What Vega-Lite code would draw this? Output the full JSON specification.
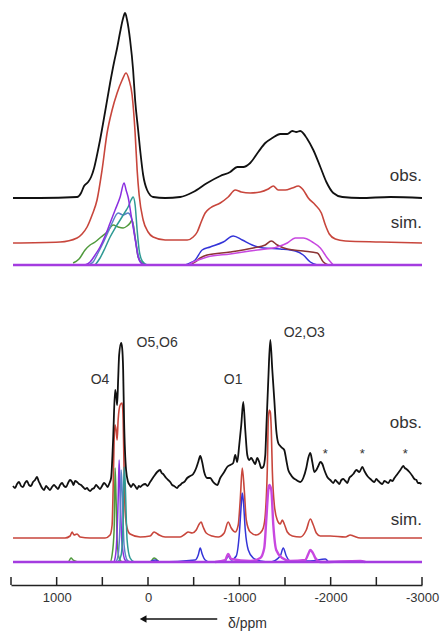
{
  "$schema": "https://vega.github.io/schema/vega-lite/v6.json",
  "width": 411,
  "height": 585,
  "autosize": {"type": "none"},
  "padding": {"left": 11, "top": 0, "right": 25, "bottom": 48},
  "background": "white",
  "config": {"view": {"stroke": null}, "font": "Liberation Sans"},
  "datasets": {
    "spectra": [
      {"s":"obs1","x":1478,"y":387},{"s":"obs1","x":1182,"y":387},{"s":"obs1","x":777,"y":388},{"s":"obs1","x":733,"y":392},{"s":"obs1","x":700,"y":399},{"s":"obs1","x":656,"y":403},{"s":"obs1","x":623,"y":408},{"s":"obs1","x":590,"y":417},{"s":"obs1","x":558,"y":430},{"s":"obs1","x":525,"y":445},{"s":"obs1","x":470,"y":473},{"s":"obs1","x":415,"y":502},{"s":"obs1","x":371,"y":523},{"s":"obs1","x":338,"y":537},{"s":"obs1","x":305,"y":553},{"s":"obs1","x":272,"y":567},{"s":"obs1","x":251,"y":572},{"s":"obs1","x":229,"y":565},{"s":"obs1","x":196,"y":545},{"s":"obs1","x":163,"y":515},{"s":"obs1","x":141,"y":485},{"s":"obs1","x":108,"y":455},{"s":"obs1","x":86,"y":435},{"s":"obs1","x":53,"y":410},{"s":"obs1","x":10,"y":395},{"s":"obs1","x":-56,"y":388},{"s":"obs1","x":-188,"y":387},{"s":"obs1","x":-352,"y":388},{"s":"obs1","x":-495,"y":393},{"s":"obs1","x":-648,"y":402},{"s":"obs1","x":-791,"y":409},{"s":"obs1","x":-900,"y":413},{"s":"obs1","x":-977,"y":418},{"s":"obs1","x":-1043,"y":418},{"s":"obs1","x":-1119,"y":422},{"s":"obs1","x":-1207,"y":433},{"s":"obs1","x":-1284,"y":442},{"s":"obs1","x":-1361,"y":447},{"s":"obs1","x":-1448,"y":451},{"s":"obs1","x":-1525,"y":451},{"s":"obs1","x":-1580,"y":454},{"s":"obs1","x":-1624,"y":453},{"s":"obs1","x":-1667,"y":454},{"s":"obs1","x":-1744,"y":446},{"s":"obs1","x":-1810,"y":435},{"s":"obs1","x":-1887,"y":418},{"s":"obs1","x":-1953,"y":403},{"s":"obs1","x":-2029,"y":392},{"s":"obs1","x":-2128,"y":388},{"s":"obs1","x":-2325,"y":387},{"s":"obs1","x":-2654,"y":388},{"s":"obs1","x":-3000,"y":387},

      {"s":"sim1","x":1478,"y":342},{"s":"sim1","x":963,"y":343},{"s":"sim1","x":777,"y":347},{"s":"sim1","x":722,"y":351},{"s":"sim1","x":667,"y":358},{"s":"sim1","x":612,"y":370},{"s":"sim1","x":558,"y":385},{"s":"sim1","x":503,"y":415},{"s":"sim1","x":448,"y":452},{"s":"sim1","x":393,"y":475},{"s":"sim1","x":338,"y":492},{"s":"sim1","x":283,"y":505},{"s":"sim1","x":240,"y":512},{"s":"sim1","x":207,"y":505},{"s":"sim1","x":174,"y":490},{"s":"sim1","x":141,"y":452},{"s":"sim1","x":119,"y":415},{"s":"sim1","x":97,"y":390},{"s":"sim1","x":53,"y":365},{"s":"sim1","x":-1,"y":353},{"s":"sim1","x":-56,"y":348},{"s":"sim1","x":-188,"y":345},{"s":"sim1","x":-429,"y":345},{"s":"sim1","x":-495,"y":348},{"s":"sim1","x":-539,"y":353},{"s":"sim1","x":-582,"y":363},{"s":"sim1","x":-626,"y":372},{"s":"sim1","x":-681,"y":377},{"s":"sim1","x":-791,"y":382},{"s":"sim1","x":-878,"y":388},{"s":"sim1","x":-955,"y":395},{"s":"sim1","x":-1021,"y":393},{"s":"sim1","x":-1119,"y":392},{"s":"sim1","x":-1229,"y":393},{"s":"sim1","x":-1317,"y":396},{"s":"sim1","x":-1372,"y":399},{"s":"sim1","x":-1426,"y":395},{"s":"sim1","x":-1503,"y":395},{"s":"sim1","x":-1580,"y":397},{"s":"sim1","x":-1646,"y":399},{"s":"sim1","x":-1700,"y":395},{"s":"sim1","x":-1755,"y":387},{"s":"sim1","x":-1832,"y":380},{"s":"sim1","x":-1898,"y":372},{"s":"sim1","x":-1942,"y":360},{"s":"sim1","x":-1985,"y":351},{"s":"sim1","x":-2051,"y":346},{"s":"sim1","x":-2161,"y":344},{"s":"sim1","x":-2545,"y":343},{"s":"sim1","x":-3000,"y":342},

      {"s":"g1","x":820,"y":322},{"s":"g1","x":755,"y":326},{"s":"g1","x":689,"y":335},{"s":"g1","x":634,"y":340},{"s":"g1","x":579,"y":343},{"s":"g1","x":514,"y":348},{"s":"g1","x":448,"y":353},{"s":"g1","x":382,"y":360},{"s":"g1","x":327,"y":358},{"s":"g1","x":272,"y":357},{"s":"g1","x":229,"y":359},{"s":"g1","x":196,"y":362},{"s":"g1","x":174,"y":365},{"s":"g1","x":141,"y":348},{"s":"g1","x":108,"y":328},{"s":"g1","x":64,"y":322},{"s":"g1","x":20,"y":320},

      {"s":"sb1","x":656,"y":320},{"s":"sb1","x":601,"y":323},{"s":"sb1","x":547,"y":332},{"s":"sb1","x":492,"y":342},{"s":"sb1","x":437,"y":353},{"s":"sb1","x":393,"y":362},{"s":"sb1","x":327,"y":372},{"s":"sb1","x":272,"y":370},{"s":"sb1","x":218,"y":372},{"s":"sb1","x":185,"y":368},{"s":"sb1","x":163,"y":360},{"s":"sb1","x":141,"y":347},{"s":"sb1","x":108,"y":330},{"s":"sb1","x":75,"y":322},{"s":"sb1","x":20,"y":320},

      {"s":"tl1","x":579,"y":320},{"s":"tl1","x":525,"y":327},{"s":"tl1","x":470,"y":337},{"s":"tl1","x":415,"y":348},{"s":"tl1","x":360,"y":357},{"s":"tl1","x":305,"y":365},{"s":"tl1","x":251,"y":373},{"s":"tl1","x":218,"y":378},{"s":"tl1","x":185,"y":385},{"s":"tl1","x":163,"y":388},{"s":"tl1","x":141,"y":380},{"s":"tl1","x":119,"y":355},{"s":"tl1","x":97,"y":335},{"s":"tl1","x":64,"y":324},{"s":"tl1","x":10,"y":320},

      {"s":"pu1","x":689,"y":320},{"s":"pu1","x":634,"y":323},{"s":"pu1","x":579,"y":330},{"s":"pu1","x":525,"y":338},{"s":"pu1","x":470,"y":349},{"s":"pu1","x":415,"y":362},{"s":"pu1","x":360,"y":375},{"s":"pu1","x":305,"y":388},{"s":"pu1","x":262,"y":402},{"s":"pu1","x":240,"y":395},{"s":"pu1","x":218,"y":388},{"s":"pu1","x":185,"y":370},{"s":"pu1","x":163,"y":358},{"s":"pu1","x":130,"y":340},{"s":"pu1","x":108,"y":328},{"s":"pu1","x":75,"y":322},{"s":"pu1","x":31,"y":320},

      {"s":"bl1","x":-407,"y":320},{"s":"bl1","x":-462,"y":322},{"s":"bl1","x":-517,"y":325},{"s":"bl1","x":-593,"y":335},{"s":"bl1","x":-681,"y":338},{"s":"bl1","x":-824,"y":343},{"s":"bl1","x":-933,"y":349},{"s":"bl1","x":-1032,"y":345},{"s":"bl1","x":-1141,"y":340},{"s":"bl1","x":-1262,"y":337},{"s":"bl1","x":-1448,"y":336},{"s":"bl1","x":-1613,"y":334},{"s":"bl1","x":-1700,"y":330},{"s":"bl1","x":-1777,"y":323},{"s":"bl1","x":-1854,"y":320},

      {"s":"br1","x":-462,"y":320},{"s":"br1","x":-517,"y":323},{"s":"br1","x":-572,"y":327},{"s":"br1","x":-648,"y":330},{"s":"br1","x":-900,"y":333},{"s":"br1","x":-1152,"y":337},{"s":"br1","x":-1284,"y":340},{"s":"br1","x":-1350,"y":344},{"s":"br1","x":-1415,"y":340},{"s":"br1","x":-1525,"y":336},{"s":"br1","x":-1700,"y":334},{"s":"br1","x":-1854,"y":332},{"s":"br1","x":-1920,"y":323},{"s":"br1","x":-1974,"y":320},

      {"s":"mg1","x":-440,"y":320},{"s":"mg1","x":-495,"y":323},{"s":"mg1","x":-550,"y":325},{"s":"mg1","x":-648,"y":328},{"s":"mg1","x":-900,"y":331},{"s":"mg1","x":-1196,"y":335},{"s":"mg1","x":-1415,"y":338},{"s":"mg1","x":-1525,"y":342},{"s":"mg1","x":-1613,"y":347},{"s":"mg1","x":-1700,"y":347},{"s":"mg1","x":-1799,"y":343},{"s":"mg1","x":-1887,"y":337},{"s":"mg1","x":-1963,"y":327},{"s":"mg1","x":-2029,"y":320},

      {"s":"base1","x":1478,"y":320},{"s":"base1","x":-3000,"y":320},

      {"s":"obs2","x":1478,"y":99},{"s":"obs2","x":1456,"y":97},{"s":"obs2","x":1434,"y":101},{"s":"obs2","x":1412,"y":103},{"s":"obs2","x":1390,"y":99},{"s":"obs2","x":1369,"y":98},{"s":"obs2","x":1347,"y":102},{"s":"obs2","x":1325,"y":104},{"s":"obs2","x":1303,"y":100},{"s":"obs2","x":1281,"y":99},{"s":"obs2","x":1259,"y":103},{"s":"obs2","x":1237,"y":105},{"s":"obs2","x":1215,"y":108},{"s":"obs2","x":1198,"y":104},{"s":"obs2","x":1182,"y":101},{"s":"obs2","x":1160,"y":97},{"s":"obs2","x":1138,"y":95},{"s":"obs2","x":1116,"y":99},{"s":"obs2","x":1095,"y":97},{"s":"obs2","x":1073,"y":95},{"s":"obs2","x":1051,"y":98},{"s":"obs2","x":1029,"y":100},{"s":"obs2","x":1007,"y":98},{"s":"obs2","x":985,"y":96},{"s":"obs2","x":963,"y":100},{"s":"obs2","x":941,"y":102},{"s":"obs2","x":919,"y":99},{"s":"obs2","x":897,"y":98},{"s":"obs2","x":875,"y":102},{"s":"obs2","x":853,"y":105},{"s":"obs2","x":831,"y":103},{"s":"obs2","x":815,"y":100},{"s":"obs2","x":799,"y":104},{"s":"obs2","x":777,"y":103},{"s":"obs2","x":755,"y":101},{"s":"obs2","x":733,"y":100},{"s":"obs2","x":711,"y":98},{"s":"obs2","x":689,"y":96},{"s":"obs2","x":667,"y":97},{"s":"obs2","x":650,"y":95},{"s":"obs2","x":634,"y":94},{"s":"obs2","x":612,"y":96},{"s":"obs2","x":590,"y":97},{"s":"obs2","x":568,"y":100},{"s":"obs2","x":547,"y":98},{"s":"obs2","x":525,"y":96},{"s":"obs2","x":503,"y":99},{"s":"obs2","x":481,"y":102},{"s":"obs2","x":459,"y":100},{"s":"obs2","x":442,"y":98},{"s":"obs2","x":426,"y":101},{"s":"obs2","x":404,"y":107},{"s":"obs2","x":382,"y":145},{"s":"obs2","x":360,"y":195},{"s":"obs2","x":349,"y":190},{"s":"obs2","x":338,"y":180},{"s":"obs2","x":327,"y":205},{"s":"obs2","x":316,"y":230},{"s":"obs2","x":294,"y":242},{"s":"obs2","x":283,"y":237},{"s":"obs2","x":272,"y":215},{"s":"obs2","x":262,"y":165},{"s":"obs2","x":240,"y":115},{"s":"obs2","x":218,"y":103},{"s":"obs2","x":200,"y":100},{"s":"obs2","x":185,"y":98},{"s":"obs2","x":163,"y":101},{"s":"obs2","x":141,"y":99},{"s":"obs2","x":119,"y":96},{"s":"obs2","x":100,"y":99},{"s":"obs2","x":86,"y":98},{"s":"obs2","x":60,"y":100},{"s":"obs2","x":31,"y":101},{"s":"obs2","x":5,"y":99},{"s":"obs2","x":-23,"y":103},{"s":"obs2","x":-45,"y":106},{"s":"obs2","x":-67,"y":109},{"s":"obs2","x":-100,"y":113},{"s":"obs2","x":-133,"y":115},{"s":"obs2","x":-150,"y":112},{"s":"obs2","x":-166,"y":111},{"s":"obs2","x":-199,"y":107},{"s":"obs2","x":-221,"y":105},{"s":"obs2","x":-243,"y":103},{"s":"obs2","x":-265,"y":100},{"s":"obs2","x":-286,"y":99},{"s":"obs2","x":-319,"y":97},{"s":"obs2","x":-336,"y":99},{"s":"obs2","x":-352,"y":100},{"s":"obs2","x":-374,"y":102},{"s":"obs2","x":-396,"y":103},{"s":"obs2","x":-429,"y":107},{"s":"obs2","x":-462,"y":109},{"s":"obs2","x":-495,"y":111},{"s":"obs2","x":-528,"y":117},{"s":"obs2","x":-550,"y":123},{"s":"obs2","x":-572,"y":129},{"s":"obs2","x":-593,"y":123},{"s":"obs2","x":-615,"y":113},{"s":"obs2","x":-648,"y":107},{"s":"obs2","x":-681,"y":107},{"s":"obs2","x":-714,"y":103},{"s":"obs2","x":-758,"y":100},{"s":"obs2","x":-791,"y":107},{"s":"obs2","x":-834,"y":113},{"s":"obs2","x":-867,"y":118},{"s":"obs2","x":-900,"y":120},{"s":"obs2","x":-933,"y":122},{"s":"obs2","x":-955,"y":130},{"s":"obs2","x":-977,"y":123},{"s":"obs2","x":-999,"y":140},{"s":"obs2","x":-1021,"y":160},{"s":"obs2","x":-1043,"y":183},{"s":"obs2","x":-1065,"y":155},{"s":"obs2","x":-1087,"y":130},{"s":"obs2","x":-1108,"y":125},{"s":"obs2","x":-1130,"y":127},{"s":"obs2","x":-1152,"y":124},{"s":"obs2","x":-1174,"y":121},{"s":"obs2","x":-1196,"y":127},{"s":"obs2","x":-1218,"y":123},{"s":"obs2","x":-1240,"y":117},{"s":"obs2","x":-1262,"y":118},{"s":"obs2","x":-1284,"y":130},{"s":"obs2","x":-1295,"y":155},{"s":"obs2","x":-1317,"y":205},{"s":"obs2","x":-1339,"y":245},{"s":"obs2","x":-1361,"y":215},{"s":"obs2","x":-1383,"y":185},{"s":"obs2","x":-1404,"y":155},{"s":"obs2","x":-1426,"y":142},{"s":"obs2","x":-1448,"y":139},{"s":"obs2","x":-1470,"y":137},{"s":"obs2","x":-1492,"y":135},{"s":"obs2","x":-1514,"y":125},{"s":"obs2","x":-1536,"y":115},{"s":"obs2","x":-1558,"y":111},{"s":"obs2","x":-1591,"y":107},{"s":"obs2","x":-1624,"y":105},{"s":"obs2","x":-1667,"y":103},{"s":"obs2","x":-1700,"y":107},{"s":"obs2","x":-1733,"y":117},{"s":"obs2","x":-1755,"y":127},{"s":"obs2","x":-1777,"y":132},{"s":"obs2","x":-1799,"y":123},{"s":"obs2","x":-1821,"y":113},{"s":"obs2","x":-1843,"y":115},{"s":"obs2","x":-1865,"y":119},{"s":"obs2","x":-1887,"y":123},{"s":"obs2","x":-1909,"y":121},{"s":"obs2","x":-1931,"y":115},{"s":"obs2","x":-1963,"y":108},{"s":"obs2","x":-1996,"y":105},{"s":"obs2","x":-2029,"y":102},{"s":"obs2","x":-2051,"y":105},{"s":"obs2","x":-2073,"y":103},{"s":"obs2","x":-2095,"y":101},{"s":"obs2","x":-2117,"y":105},{"s":"obs2","x":-2139,"y":106},{"s":"obs2","x":-2161,"y":104},{"s":"obs2","x":-2183,"y":102},{"s":"obs2","x":-2204,"y":107},{"s":"obs2","x":-2226,"y":109},{"s":"obs2","x":-2248,"y":111},{"s":"obs2","x":-2281,"y":115},{"s":"obs2","x":-2314,"y":113},{"s":"obs2","x":-2347,"y":118},{"s":"obs2","x":-2369,"y":114},{"s":"obs2","x":-2402,"y":109},{"s":"obs2","x":-2435,"y":106},{"s":"obs2","x":-2457,"y":104},{"s":"obs2","x":-2479,"y":103},{"s":"obs2","x":-2500,"y":106},{"s":"obs2","x":-2522,"y":104},{"s":"obs2","x":-2544,"y":102},{"s":"obs2","x":-2566,"y":101},{"s":"obs2","x":-2588,"y":104},{"s":"obs2","x":-2610,"y":103},{"s":"obs2","x":-2632,"y":102},{"s":"obs2","x":-2654,"y":105},{"s":"obs2","x":-2676,"y":104},{"s":"obs2","x":-2698,"y":107},{"s":"obs2","x":-2731,"y":111},{"s":"obs2","x":-2763,"y":115},{"s":"obs2","x":-2796,"y":119},{"s":"obs2","x":-2812,"y":117},{"s":"obs2","x":-2829,"y":116},{"s":"obs2","x":-2862,"y":113},{"s":"obs2","x":-2895,"y":109},{"s":"obs2","x":-2917,"y":106},{"s":"obs2","x":-2939,"y":105},{"s":"obs2","x":-2955,"y":102},{"s":"obs2","x":-2972,"y":102},{"s":"obs2","x":-2994,"y":101},

      {"s":"sim2","x":1478,"y":47},{"s":"sim2","x":908,"y":47},{"s":"sim2","x":853,"y":49},{"s":"sim2","x":831,"y":53},{"s":"sim2","x":810,"y":50},{"s":"sim2","x":777,"y":51},{"s":"sim2","x":744,"y":48},{"s":"sim2","x":634,"y":47},{"s":"sim2","x":470,"y":47},{"s":"sim2","x":415,"y":50},{"s":"sim2","x":393,"y":60},{"s":"sim2","x":382,"y":95},{"s":"sim2","x":371,"y":145},{"s":"sim2","x":360,"y":160},{"s":"sim2","x":349,"y":155},{"s":"sim2","x":338,"y":145},{"s":"sim2","x":327,"y":165},{"s":"sim2","x":305,"y":180},{"s":"sim2","x":283,"y":182},{"s":"sim2","x":272,"y":165},{"s":"sim2","x":262,"y":115},{"s":"sim2","x":251,"y":75},{"s":"sim2","x":229,"y":57},{"s":"sim2","x":196,"y":51},{"s":"sim2","x":86,"y":48},{"s":"sim2","x":-23,"y":49},{"s":"sim2","x":-67,"y":53},{"s":"sim2","x":-89,"y":52},{"s":"sim2","x":-122,"y":50},{"s":"sim2","x":-188,"y":48},{"s":"sim2","x":-352,"y":48},{"s":"sim2","x":-407,"y":51},{"s":"sim2","x":-440,"y":53},{"s":"sim2","x":-484,"y":52},{"s":"sim2","x":-528,"y":55},{"s":"sim2","x":-561,"y":61},{"s":"sim2","x":-582,"y":63},{"s":"sim2","x":-604,"y":58},{"s":"sim2","x":-637,"y":52},{"s":"sim2","x":-703,"y":49},{"s":"sim2","x":-769,"y":48},{"s":"sim2","x":-834,"y":52},{"s":"sim2","x":-878,"y":63},{"s":"sim2","x":-911,"y":57},{"s":"sim2","x":-955,"y":53},{"s":"sim2","x":-988,"y":60},{"s":"sim2","x":-1010,"y":85},{"s":"sim2","x":-1032,"y":117},{"s":"sim2","x":-1054,"y":95},{"s":"sim2","x":-1076,"y":65},{"s":"sim2","x":-1119,"y":53},{"s":"sim2","x":-1185,"y":50},{"s":"sim2","x":-1229,"y":52},{"s":"sim2","x":-1262,"y":57},{"s":"sim2","x":-1284,"y":70},{"s":"sim2","x":-1306,"y":115},{"s":"sim2","x":-1317,"y":165},{"s":"sim2","x":-1328,"y":175},{"s":"sim2","x":-1339,"y":173},{"s":"sim2","x":-1350,"y":155},{"s":"sim2","x":-1361,"y":115},{"s":"sim2","x":-1383,"y":80},{"s":"sim2","x":-1415,"y":65},{"s":"sim2","x":-1448,"y":61},{"s":"sim2","x":-1470,"y":65},{"s":"sim2","x":-1492,"y":61},{"s":"sim2","x":-1525,"y":53},{"s":"sim2","x":-1580,"y":49},{"s":"sim2","x":-1667,"y":48},{"s":"sim2","x":-1733,"y":55},{"s":"sim2","x":-1777,"y":66},{"s":"sim2","x":-1810,"y":60},{"s":"sim2","x":-1843,"y":52},{"s":"sim2","x":-1887,"y":49},{"s":"sim2","x":-1996,"y":49},{"s":"sim2","x":-2161,"y":48},{"s":"sim2","x":-2215,"y":50},{"s":"sim2","x":-2248,"y":49},{"s":"sim2","x":-2325,"y":47},{"s":"sim2","x":-3000,"y":47},

      {"s":"g2","x":1478,"y":23},{"s":"g2","x":875,"y":23},{"s":"g2","x":842,"y":27},{"s":"g2","x":820,"y":25},{"s":"g2","x":799,"y":24},{"s":"g2","x":766,"y":23},{"s":"g2","x":415,"y":23},{"s":"g2","x":393,"y":30},{"s":"g2","x":371,"y":55},{"s":"g2","x":360,"y":117},{"s":"g2","x":349,"y":85},{"s":"g2","x":338,"y":45},{"s":"g2","x":316,"y":27},{"s":"g2","x":283,"y":23},{"s":"g2","x":-23,"y":23},{"s":"g2","x":-67,"y":27},{"s":"g2","x":-89,"y":26},{"s":"g2","x":-122,"y":23},

      {"s":"pu2","x":371,"y":23},{"s":"pu2","x":349,"y":35},{"s":"pu2","x":327,"y":85},{"s":"pu2","x":316,"y":125},{"s":"pu2","x":305,"y":90},{"s":"pu2","x":283,"y":40},{"s":"pu2","x":251,"y":25},{"s":"pu2","x":218,"y":23},

      {"s":"sb2","x":349,"y":23},{"s":"sb2","x":327,"y":30},{"s":"sb2","x":305,"y":65},{"s":"sb2","x":294,"y":115},{"s":"sb2","x":283,"y":95},{"s":"sb2","x":262,"y":40},{"s":"sb2","x":229,"y":25},{"s":"sb2","x":196,"y":23},

      {"s":"tl2","x":327,"y":23},{"s":"tl2","x":294,"y":30},{"s":"tl2","x":272,"y":65},{"s":"tl2","x":262,"y":118},{"s":"tl2","x":251,"y":105},{"s":"tl2","x":229,"y":45},{"s":"tl2","x":196,"y":27},{"s":"tl2","x":152,"y":23},

      {"s":"bl2","x":-23,"y":23},{"s":"bl2","x":-78,"y":25},{"s":"bl2","x":-133,"y":23},{"s":"bl2","x":-517,"y":25},{"s":"bl2","x":-550,"y":30},{"s":"bl2","x":-572,"y":37},{"s":"bl2","x":-593,"y":31},{"s":"bl2","x":-626,"y":25},{"s":"bl2","x":-681,"y":23},{"s":"bl2","x":-845,"y":24},{"s":"bl2","x":-878,"y":29},{"s":"bl2","x":-911,"y":25},{"s":"bl2","x":-966,"y":29},{"s":"bl2","x":-999,"y":50},{"s":"bl2","x":-1021,"y":80},{"s":"bl2","x":-1032,"y":92},{"s":"bl2","x":-1043,"y":85},{"s":"bl2","x":-1065,"y":55},{"s":"bl2","x":-1098,"y":35},{"s":"bl2","x":-1152,"y":27},{"s":"bl2","x":-1229,"y":24},{"s":"bl2","x":-1339,"y":23},{"s":"bl2","x":-1448,"y":29},{"s":"bl2","x":-1481,"y":37},{"s":"bl2","x":-1514,"y":29},{"s":"bl2","x":-1558,"y":24},{"s":"bl2","x":-1777,"y":24},{"s":"bl2","x":-1942,"y":26},{"s":"bl2","x":-1974,"y":23},

      {"s":"mg2","x":-736,"y":23},{"s":"mg2","x":-845,"y":25},{"s":"mg2","x":-878,"y":31},{"s":"mg2","x":-911,"y":26},{"s":"mg2","x":-1119,"y":24},{"s":"mg2","x":-1229,"y":27},{"s":"mg2","x":-1273,"y":37},{"s":"mg2","x":-1295,"y":65},{"s":"mg2","x":-1317,"y":95},{"s":"mg2","x":-1328,"y":100},{"s":"mg2","x":-1350,"y":95},{"s":"mg2","x":-1372,"y":60},{"s":"mg2","x":-1404,"y":35},{"s":"mg2","x":-1470,"y":27},{"s":"mg2","x":-1558,"y":24},{"s":"mg2","x":-1722,"y":25},{"s":"mg2","x":-1755,"y":31},{"s":"mg2","x":-1777,"y":35},{"s":"mg2","x":-1799,"y":33},{"s":"mg2","x":-1832,"y":27},{"s":"mg2","x":-1887,"y":23},{"s":"mg2","x":-2325,"y":24},{"s":"mg2","x":-2380,"y":23},

      {"s":"base2","x":1478,"y":23},{"s":"base2","x":-3000,"y":23}
    ],
    "labels": [
      {"t":"obs.","x":-3000,"y":409},
      {"t":"sim.","x":-3000,"y":362},
      {"t":"obs.","x":-3000,"y":162},
      {"t":"sim.","x":-3000,"y":65}
    ],
    "peaks": [
      {"t":"O4","x":525,"y":205},
      {"t":"O5,O6","x":-100,"y":242},
      {"t":"O1","x":-933,"y":205},
      {"t":"O2,O3","x":-1711,"y":252}
    ],
    "stars": [
      {"t":"*","x":-1942,"y":131},
      {"t":"*","x":-2347,"y":131},
      {"t":"*","x":-2818,"y":131}
    ],
    "ticks": [
      {"v":1500},{"v":1000},{"v":500},{"v":0},{"v":-500},{"v":-1000},{"v":-1500},{"v":-2000},{"v":-2500},{"v":-3000}
    ],
    "arrow": [
      {"x":53,"x2":-758,"y":-34}
    ]
  },
  "layer": [
    {
      "data": {"name": "spectra"},
      "transform": [{"filter": {"field": "s", "oneOf": ["sim1","sim2"]}}],
      "mark": {"type": "line", "strokeWidth": 1.6, "clip": false, "interpolate": "monotone"},
      "encoding": {
        "x": {"field": "x", "type": "quantitative", "scale": {"domain": [1500, -3000], "nice": false, "zero": false},
              "axis": {"values": [1000,0,-1000,-2000,-3000],
                       "labelExpr": "toString(datum.value)",
                       "title": "δ/ppm", "titleX": 236, "titleY": 38, "titleAlign": "center", "titleBaseline": "middle",
                       "titleFontSize": 14, "titleFontWeight": "normal", "titleColor": "#333", "titleFont": "Liberation Sans",
                       "grid": false, "ticks": false, "domainColor": "#222", "domainWidth": 1.5,
                       "labelFontSize": 13, "labelColor": "#333", "labelPadding": 6, "labelFont": "Liberation Sans", "labelFlush": false}},
        "y": {"field": "y", "type": "quantitative", "scale": {"domain": [0, 585], "nice": false, "zero": false}, "axis": null},
        "detail": {"field": "s"},
        "color": {"field": "s", "type": "nominal", "legend": null,
                  "scale": {"domain": ["obs1","sim1","g1","sb1","tl1","pu1","bl1","br1","mg1","base1","obs2","sim2","g2","pu2","sb2","tl2","bl2","mg2","base2"],
                            "range": ["#111111","#c8463c","#4f9a3c","#5b82c8","#2e9a94","#8a2ee0","#3434d8","#8c3434","#c848e0","#a43ce0","#111111","#c8463c","#4f9a3c","#8a2ee0","#5b82c8","#2e9a94","#3434d8","#c848e0","#a43ce0"]}}
      }
    },
    {
      "data": {"name": "spectra"},
      "transform": [{"filter": {"field": "s", "oneOf": ["g1","sb1","tl1","pu1","bl1","br1","mg1","g2","pu2","sb2","tl2","bl2"]}}],
      "mark": {"type": "line", "strokeWidth": 1.5, "clip": false, "interpolate": "monotone"},
      "encoding": {
        "x": {"field": "x", "type": "quantitative"},
        "y": {"field": "y", "type": "quantitative"},
        "detail": {"field": "s"},
        "color": {"field": "s", "type": "nominal", "legend": null}
      }
    },
    {
      "data": {"name": "spectra"},
      "transform": [{"filter": {"field": "s", "oneOf": ["mg2"]}}],
      "mark": {"type": "line", "strokeWidth": 2.4, "clip": false, "interpolate": "monotone"},
      "encoding": {
        "x": {"field": "x", "type": "quantitative"},
        "y": {"field": "y", "type": "quantitative"},
        "detail": {"field": "s"},
        "color": {"field": "s", "type": "nominal", "legend": null}
      }
    },
    {
      "data": {"name": "spectra"},
      "transform": [{"filter": {"field": "s", "oneOf": ["base1","base2"]}}],
      "mark": {"type": "line", "strokeWidth": 2.4, "clip": false},
      "encoding": {
        "x": {"field": "x", "type": "quantitative"},
        "y": {"field": "y", "type": "quantitative"},
        "detail": {"field": "s"},
        "color": {"field": "s", "type": "nominal", "legend": null}
      }
    },
    {
      "data": {"name": "spectra"},
      "transform": [{"filter": {"field": "s", "oneOf": ["obs1","obs2"]}}],
      "mark": {"type": "line", "strokeWidth": 1.8, "clip": false, "interpolate": "monotone"},
      "encoding": {
        "x": {"field": "x", "type": "quantitative"},
        "y": {"field": "y", "type": "quantitative"},
        "detail": {"field": "s"},
        "color": {"field": "s", "type": "nominal", "legend": null}
      }
    },
    {
      "data": {"name": "ticks"},
      "mark": {"type": "rule", "color": "#222", "strokeWidth": 1.5, "clip": false},
      "encoding": {
        "x": {"field": "v", "type": "quantitative"},
        "y": {"datum": 0, "type": "quantitative"},
        "y2": {"datum": 8}
      }
    },
    {
      "data": {"name": "labels"},
      "mark": {"type": "text", "align": "right", "baseline": "middle", "fontSize": 17, "color": "#333", "font": "Liberation Sans"},
      "encoding": {
        "x": {"field": "x", "type": "quantitative"},
        "y": {"field": "y", "type": "quantitative"},
        "text": {"field": "t"}
      }
    },
    {
      "data": {"name": "peaks"},
      "mark": {"type": "text", "align": "center", "baseline": "middle", "fontSize": 14, "color": "#333", "font": "Liberation Sans"},
      "encoding": {
        "x": {"field": "x", "type": "quantitative"},
        "y": {"field": "y", "type": "quantitative"},
        "text": {"field": "t"}
      }
    },
    {
      "data": {"name": "stars"},
      "mark": {"type": "text", "align": "center", "baseline": "middle", "fontSize": 13, "color": "#333", "font": "Liberation Sans"},
      "encoding": {
        "x": {"field": "x", "type": "quantitative"},
        "y": {"field": "y", "type": "quantitative"},
        "text": {"field": "t"}
      }
    },
    {
      "data": {"name": "arrow"},
      "mark": {"type": "rule", "color": "#111", "strokeWidth": 1.5, "clip": false},
      "encoding": {
        "x": {"field": "x", "type": "quantitative"},
        "x2": {"field": "x2"},
        "y": {"field": "y", "type": "quantitative"}
      }
    },
    {
      "data": {"name": "arrow"},
      "mark": {"type": "point", "shape": "triangle-left", "filled": true, "color": "#111", "size": 60, "opacity": 1, "clip": false},
      "encoding": {
        "x": {"field": "x", "type": "quantitative"},
        "y": {"field": "y", "type": "quantitative"}
      }
    }
  ]
}
